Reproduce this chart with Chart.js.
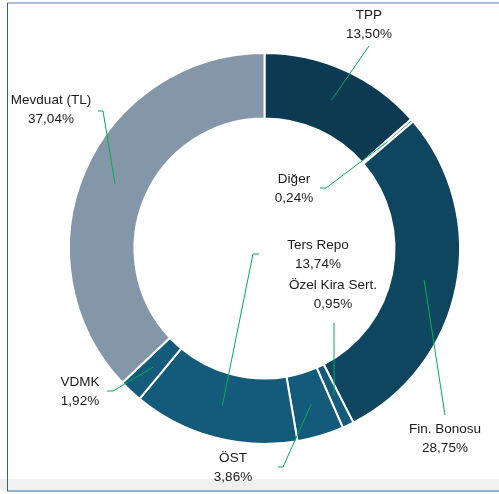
<!DOCTYPE html>
<html>
<head>
<meta charset="utf-8">
<script src="https://cdn.jsdelivr.net/npm/chart.js@4.4.0/dist/chart.umd.min.js"></script>
<style>
  html, body { margin: 0; padding: 0; background: #fff; }
  canvas { display: block; }
</style>
</head>
<body>
<canvas id="chart" width="499" height="494"></canvas>
<script>
// dati del grafico (ordine orario partendo dall'alto)
var categories = ['TPP', 'Diğer', 'Fin. Bonosu', 'Özel Kira Sert.', 'ÖST', 'Ters Repo', 'VDMK', 'Mevduat (TL)'];
var values = [13.50, 0.24, 28.75, 0.95, 3.86, 13.74, 1.92, 37.04];
var colors = ['#0b3a52', '#4f86a6', '#0e4660', '#145a7a', '#145a7a', '#145a7a', '#145a7a', '#8497a8'];

// posizione etichette rispetto al centro: testo, fine linea, gomito (opzionale)
var labelText = [[104.5, -224], [29.5, -60], [180.5, 190], [68.5, 46], [-31.5, 219], [53.5, 6], [-184.5, 143], [-213.5, -139]];
var leaderEnd = [[104.5, -202.5], [61.5, -60.5], [180.5, 166.5], [69.5, 74.5], [18.5, 218.5], [-11.5, 5.5], [-151.5, 142.5], [-161.5, -137.5]];
var leaderElbow = [null, [55.5, -60.5], null, null, [13.5, 218.5], [-5.5, 5.5], [-157.5, 142.5], [-166.5, -137.5]];

//formatta il valore con la virgola
function formatPerc(v) {
  return v.toFixed(2).replace('.', ',') + '%';
}

//cornice tipo foglio excel
var framePlugin = {
  id: 'frame',
  beforeDraw: function(chart) {
    var ctx = chart.ctx;
    ctx.save();
    ctx.fillStyle = '#ffffff';
    ctx.fillRect(0, 0, chart.width, chart.height);
    ctx.fillStyle = '#f0f0f0';
    ctx.fillRect(0, 479, chart.width, 11);
    ctx.fillStyle = '#a9bfd8';
    ctx.fillRect(7, 2, chart.width - 7, 2);
    ctx.fillStyle = '#8fb0d8';
    ctx.fillRect(7, 490, chart.width - 7, 2);
    ctx.fillStyle = '#2f5f98';
    ctx.fillRect(7, 3, 1, 488);
    ctx.restore();
  }
};

//etichette con linee guida
var labelPlugin = {
  id: 'leaderLabels',
  afterDatasetsDraw: function(chart) {
    var ctx = chart.ctx;
    var meta = chart.getDatasetMeta(0);
    ctx.save();
    meta.data.forEach(function(arc, i) {
      var p = arc.getProps(['x', 'y', 'startAngle', 'endAngle', 'innerRadius', 'outerRadius'], true);
      var mid = (p.startAngle + p.endAngle) / 2;
      var r = (p.innerRadius + p.outerRadius) / 2;
      var ax = p.x + Math.cos(mid) * r;
      var ay = p.y + Math.sin(mid) * r;

      ctx.strokeStyle = '#00b050';
      ctx.lineWidth = 1;
      ctx.beginPath();
      ctx.moveTo(ax, ay);
      ctx.lineTo(p.x + leaderEnd[i][0], p.y + leaderEnd[i][1]);
      if (leaderElbow[i]) {
        ctx.lineTo(p.x + leaderElbow[i][0], p.y + leaderElbow[i][1]);
      }
      ctx.stroke();

      ctx.fillStyle = '#1a1a1a';
      ctx.font = '13.5px "Liberation Sans", Arial, sans-serif';
      ctx.textAlign = 'center';
      ctx.textBaseline = 'middle';
      var tx = p.x + labelText[i][0];
      var ty = p.y + labelText[i][1];
      ctx.fillText(categories[i], tx, ty - 9.5);
      ctx.fillText(formatPerc(values[i]), tx, ty + 9.5);
    });
    ctx.restore();
  }
};

var chart = new Chart(document.getElementById('chart'), {
  type: 'doughnut',
  data: {
    labels: categories,
    datasets: [{
      data: values,
      backgroundColor: colors,
      borderColor: '#ffffff',
      borderWidth: 2
    }]
  },
  options: {
    responsive: false,
    animation: false,
    cutout: '66.5%',
    layout: { padding: { left: 68, right: 38, top: 52, bottom: 49 } },
    plugins: {
      legend: { display: false },
      tooltip: { enabled: false }
    }
  },
  plugins: [framePlugin, labelPlugin]
});
</script>
</body>
</html>
